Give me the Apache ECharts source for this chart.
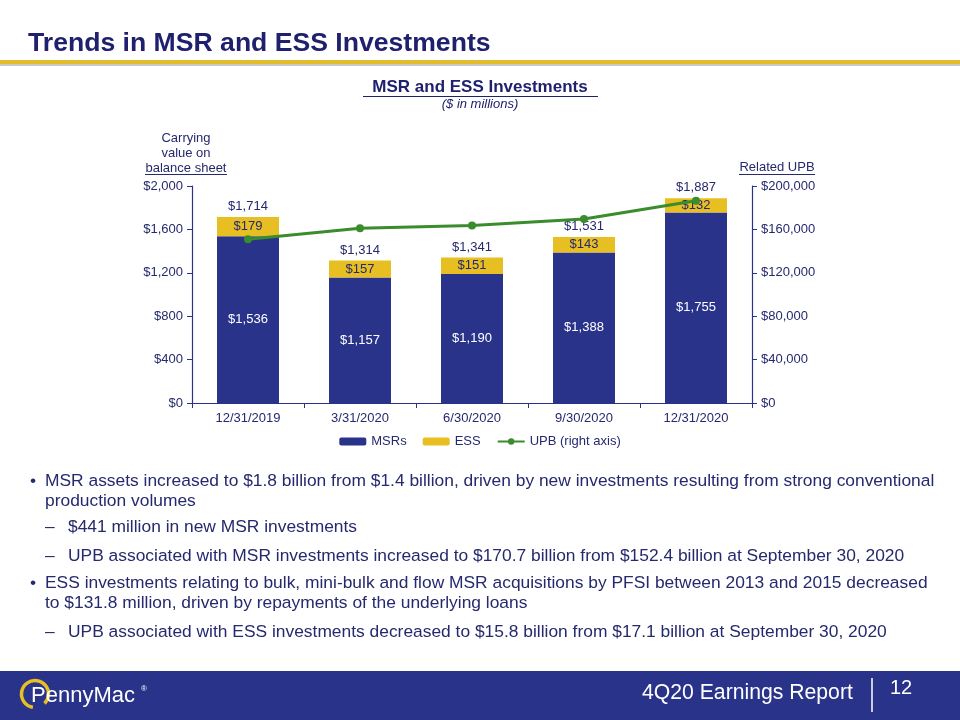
<!DOCTYPE html>
<html><head><meta charset="utf-8">
<script src="https://cdn.jsdelivr.net/npm/echarts@6/dist/echarts.min.js"></script>
<style>html,body{margin:0;padding:0;background:#fff}#c{width:960px;height:720px}</style>
</head><body><div id="c"></div>
<script>
var categories = ['12/31/2019','3/31/2020','6/30/2020','9/30/2020','12/31/2020'];
var msrValues = [1536, 1157, 1190, 1388, 1755];
var essValues = [179, 157, 151, 143, 132];
var totalValues = [1714, 1314, 1341, 1531, 1887];
var upbValues = [151000, 161000, 163500, 169500, 186500];
var leftTicks = [0, 400, 800, 1200, 1600, 2000];
var rightTicks = [0, 40000, 80000, 120000, 160000, 200000];

var NAVY = '#29338a', GOLD = '#e8bf22', GREEN = '#3a8c2c', TXT = '#25296e';
var F = 'Liberation Sans, Arial, sans-serif';
function money(v){ return '$' + v.toLocaleString('en-US'); }

var chart = echarts.init(document.getElementById('c'));
function t(x,y,s,opt){ opt=opt||{}; return {type:'text',x:x,y:y,silent:true,style:Object.assign({text:s,fill:TXT,font:'17.4px '+F,textVerticalAlign:'middle',textAlign:'left'},opt)}; }
function ln(x1,y1,x2,y2,c,w){ return {type:'line',silent:true,shape:{x1:x1,y1:y1,x2:x2,y2:y2},style:{stroke:c,lineWidth:w}}; }

var graphics = [
  t(28,44,'Trends in MSR and ESS Investments',{font:'bold 26.6px '+F,fill:'#1f206e'}),
  {type:'rect',silent:true,shape:{x:0,y:63,width:960,height:3},style:{fill:'#c9c9c9'}},
  {type:'rect',silent:true,shape:{x:0,y:60,width:960,height:4},style:{fill:'#e2bd2b'}},
  t(480,87,'MSR and ESS Investments',{font:'bold 17px '+F,textAlign:'center',fill:'#1f206e'}),
  ln(363,96.5,598,96.5,'#1f206e',1.2),
  t(480,104,'($ in millions)',{font:'italic 13px '+F,textAlign:'center',fill:'#1f206e'}),
  t(186,138,'Carrying',{font:'13px '+F,textAlign:'center'}),
  t(186,153,'value on',{font:'13px '+F,textAlign:'center'}),
  t(186,168,'balance sheet',{font:'13px '+F,textAlign:'center'}),
  ln(145,174.5,227,174.5,TXT,1),
  t(777,167,'Related UPB',{font:'13px '+F,textAlign:'center'}),
  ln(739,174.5,815,174.5,TXT,1),
  t(30,481,'•',{}),
  t(45,481,'MSR assets increased to $1.8 billion from $1.4 billion, driven by new investments resulting from strong conventional'),
  t(45,501,'production volumes'),
  t(45,527,'–'),
  t(68,527,'$441 million in new MSR investments'),
  t(45,556,'–'),
  t(68,556,'UPB associated with MSR investments increased to $170.7 billion from $152.4 billion at September 30, 2020'),
  t(30,583,'•'),
  t(45,583,'ESS investments relating to bulk, mini-bulk and flow MSR acquisitions by PFSI between 2013 and 2015 decreased'),
  t(45,603,'to $131.8 million, driven by repayments of the underlying loans'),
  t(45,632,'–'),
  t(68,632,'UPB associated with ESS investments decreased to $15.8 billion from $17.1 billion at September 30, 2020'),
  {type:'rect',silent:true,shape:{x:0,y:671,width:960,height:49},style:{fill:NAVY}},
  {type:'arc',silent:true,shape:{cx:35,cy:694,r:13.5,startAngle:Math.PI*0.55,endAngle:Math.PI*2.25},style:{stroke:GOLD,lineWidth:3.5,fill:null}},
  t(31,696,'PennyMac',{font:'22px '+F,fill:'#fff'}),
  t(141,689,'®',{font:'8px '+F,fill:'#fff'}),
  t(642,693,'4Q20 Earnings Report',{font:'21.2px '+F,fill:'#fff'}),
  ln(872,678,872,712,'#fff',1.5),
  t(890,688,'12',{font:'20px '+F,fill:'#fff'})
];

chart.setOption({
  animation:false,
  textStyle:{fontFamily:F},
  grid:{left:192,right:208,top:186,bottom:317,containLabel:false},
  legend:{data:['MSRs','ESS','UPB (right axis)'],top:430,left:'center',itemGap:16,itemWidth:27,itemHeight:8,
    textStyle:{color:TXT,fontSize:13,fontFamily:F}},
  xAxis:{type:'category',data:categories,
    axisLine:{lineStyle:{color:NAVY,width:1.2}},axisTick:{show:true,alignWithLabel:false,lineStyle:{color:NAVY}},
    axisLabel:{color:TXT,fontSize:13,margin:9}},
  yAxis:[
    {type:'value',min:0,max:2000,interval:400,position:'left',
     axisLine:{show:true,lineStyle:{color:NAVY,width:1.2}},axisTick:{show:true,length:5,lineStyle:{color:NAVY}},
     splitLine:{show:false},axisLabel:{color:TXT,fontSize:13,margin:9,formatter:function(v){return money(v);}}},
    {type:'value',min:0,max:200000,interval:40000,position:'right',
     axisLine:{show:true,lineStyle:{color:NAVY,width:1.2}},axisTick:{show:true,length:5,lineStyle:{color:NAVY}},
     splitLine:{show:false},axisLabel:{color:TXT,fontSize:13,margin:9,formatter:function(v){return money(v);}}}
  ],
  series:[
    {name:'MSRs',type:'bar',stack:'s',data:msrValues,barWidth:62,itemStyle:{color:NAVY},
     label:{show:true,position:'inside',color:'#fff',fontSize:13,formatter:function(p){return money(p.value);}}},
    {name:'ESS',type:'bar',stack:'s',data:essValues,barWidth:62,itemStyle:{color:GOLD},
     label:{show:true,position:'inside',color:TXT,fontSize:13,formatter:function(p){return money(p.value);}}},
    {name:'Totals',type:'scatter',data:totalValues,symbolSize:0,z:5,itemStyle:{opacity:1},
     label:{show:true,position:'top',distance:4,color:TXT,opacity:1,fontSize:13,formatter:function(p){return money(p.value);}}},
    {name:'UPB (right axis)',type:'line',yAxisIndex:1,data:upbValues,z:10,
     lineStyle:{color:GREEN,width:3},itemStyle:{color:GREEN},symbol:'circle',symbolSize:8,showSymbol:true}
  ],
  graphic:graphics
});
</script></body></html>
